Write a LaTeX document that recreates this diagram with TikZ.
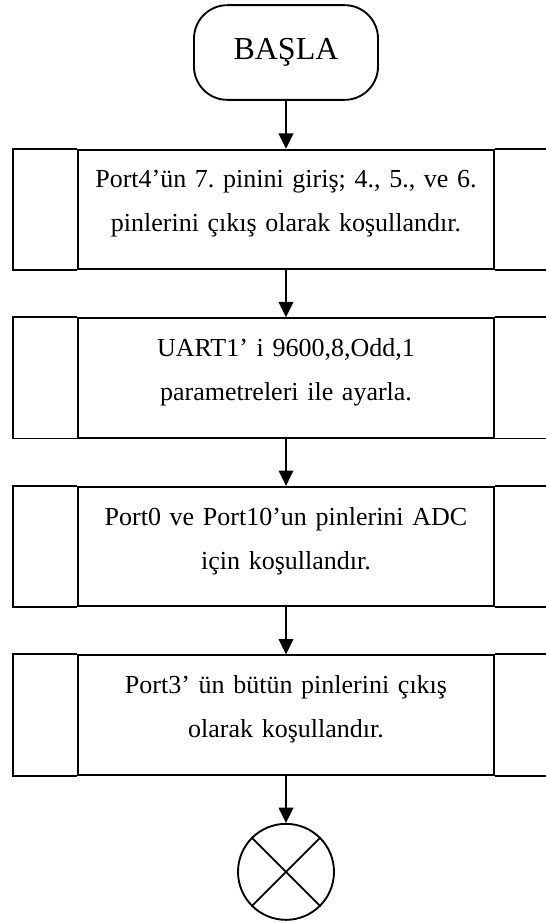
\documentclass[tikz,border=0pt]{standalone}
\usepackage{fontspec}
\setmainfont{Liberation Serif}
\usetikzlibrary{positioning,arrows.meta}

\tikzset{
	terminal/.style={draw,line width=1.4pt,rounded corners=25pt,minimum width=138pt,minimum height=71pt,font=\fontsize{24}{28}\selectfont},
	procbox/.style={draw,line width=1.4pt,minimum width=312pt,minimum height=89.5pt,text width=300pt,align=center,font=\fontsize{19.5}{33}\selectfont\frenchspacing,execute at end node={\par\vspace{8pt}}},
	endnode/.style={draw,line width=1.4pt,circle,minimum size=72pt,inner sep=0pt},
	arr/.style={line width=1.4pt,-{Triangle[width=11pt,length=11.5pt]}}
}

\begin{document}
\begin{tikzpicture}[x=0.75pt,y=-0.75pt,node distance=35.5pt]
			\useasboundingbox (0,0) rectangle (546,922);
			
			\node[terminal] (basla) at (286,52.5) {BAŞLA};
			\node[procbox,below=36pt of basla] (port4) {Port4’ün 7. pinini giriş; 4., 5., ve 6.\\pinlerini çıkış olarak koşullandır.};
			\node[procbox,below=of port4] (uart) {UART1’ i 9600,8,Odd,1\\parametreleri ile ayarla.};
			\node[procbox,below=of uart] (adc) {Port0 ve Port10’un pinlerini ADC\\için koşullandır.};
			\node[procbox,below=of adc] (port3) {Port3’ ün bütün pinlerini çıkış\\olarak koşullandır.};
			\node[endnode,below=of port3] (bitis) {};
			
			\foreach \n in {port4,uart,adc,port3}
			\draw[line width=1.4pt] (\n.north west) -- ++(-48pt,0) |- (\n.south west)
				(\n.north east) -- ++(48pt,0) |- (\n.south east);
			
			\draw[line width=1.4pt] (bitis.45) -- (bitis.225) (bitis.135) -- (bitis.315);
			
			\draw[arr] (basla) -- (port4);
			\draw[arr] (port4) -- (uart);
			\draw[arr] (uart) -- (adc);
			\draw[arr] (adc) -- (port3);
			\draw[arr] (port3) -- (bitis);
			\end{tikzpicture}
\end{document}
